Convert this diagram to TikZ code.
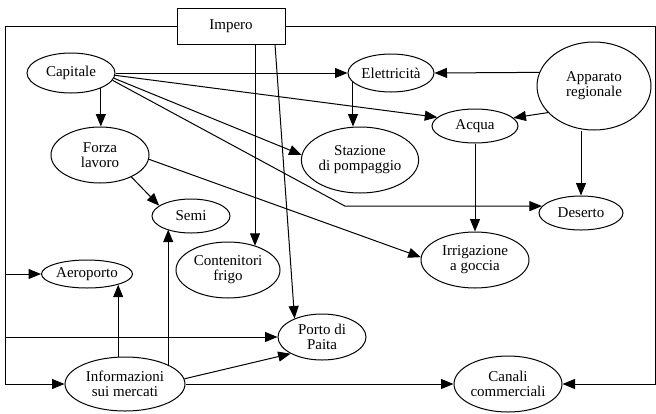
\documentclass[tikz,border=0pt]{standalone}
\usepackage{fontspec}
\setmainfont{Liberation Serif}
\usetikzlibrary{shapes.geometric,arrows.meta}
\begin{document}
\begin{tikzpicture}[x=1pt,y=-1pt,
  every node/.style={font=\fontsize{15}{15}\selectfont},
  box/.style={draw, rectangle, minimum width=108pt, minimum height=36pt, inner sep=0pt},
  ell/.style 2 args={draw, ellipse, inner sep=0pt, minimum width=#1pt, minimum height=#2pt, align=center},
  arr/.style={-{Triangle[length=12.5pt,width=10pt]}},
  line width=1pt]
\useasboundingbox (0,0) rectangle (656,413);

% nodes
\node[box] (impero) at (231,26) {Impero};
\node[ell={88}{40}] (capitale) at (71,73) {Capitale};
\node[ell={98}{56}] (forza) at (100,155) {Forza\\lavoro};
\node[ell={86}{38}] (elettricita) at (391,73) {Elettricità};
\node[ell={114}{88}] (apparato) at (594,86) {Apparato\\regionale};
\node[ell={86}{34}] (acqua) at (475,126) {Acqua};
\node[ell={114}{66}] (stazione) at (360,160) {Stazione\\di pompaggio};
\node[ell={84}{34}] (deserto) at (581,213) {Deserto};
\node[ell={78}{34}] (semi) at (191,216) {Semi};
\node[ell={104}{56}] (contenitori) at (228,270) {Contenitori\\frigo};
\node[ell={91}{28}] (aeroporto) at (87,274) {Aeroporto};
\node[ell={108}{56}] (irrigazione) at (475,260) {Irrigazione\\a goccia};
\node[ell={88}{46}] (porto) at (322,337) {Porto di\\Paita};
\node[ell={120}{54}] (informazioni) at (125,384) {Informazioni\\sui mercati};
\node[ell={108}{56}] (canali) at (508,384) {Canali\\commerciali};

% routing helpers
\coordinate (leftx) at (5.5,0);
\coordinate (rightx) at (655,0);
\coordinate (bend) at (345,0);

% frame lines from Impero
\draw[arr] (impero.west) -| (leftx |- informazioni.west) -- (informazioni.west);
\draw[arr] (leftx |- aeroporto.west) -- (aeroporto.west);
\draw[arr] (leftx |- porto.west) -- (porto.west);
\draw[arr] (impero.east) -| (rightx |- canali.east) -- (canali.east);
\draw[arr] ([xshift=24pt]impero.south) -- ([xshift=24pt]impero.south |- contenitori.41.5);
\draw[arr] ([xshift=44pt]impero.south) -- (porto.146);

% Capitale
\draw[arr] (capitale.-27) -- (capitale.-27 |- forza.north);
\draw[arr] (capitale.east) -- (elettricita.west);
\draw[arr] (capitale.-3) -- (acqua.167);
\draw[arr] (capitale.-7) -- (stazione.175);
\draw[arr] (capitale.-10) -- (bend |- deserto.170) -- (deserto.170);

% Forza lavoro
\draw[arr] (forza.-35) -- (semi.162);
\draw[arr] (forza.-5) -- (irrigazione.177);

% Elettricità, Apparato regionale, Acqua
\draw[arr] (elettricita.194.7) -- (elettricita.194.7 |- stazione.north);
\draw[arr] (apparato.166.6) -- (elettricita.east);
\draw[arr] (apparato.210.4) -- (acqua.12);
\draw[arr] (deserto.north |- apparato.south) -- (deserto.north);
\draw[arr] (acqua.south) -- (irrigazione.north);

% Informazioni sui mercati
\draw[arr] (informazioni.104.6) -- (informazioni.104.6 |- aeroporto.-19.4);
\draw[arr] (informazioni.24.7) -- (informazioni.24.7 |- semi.209);
\draw[arr] (informazioni.5) -- (porto.208);
\draw[arr] (informazioni.east) -- (canali.west);
\end{tikzpicture}
\end{document}
